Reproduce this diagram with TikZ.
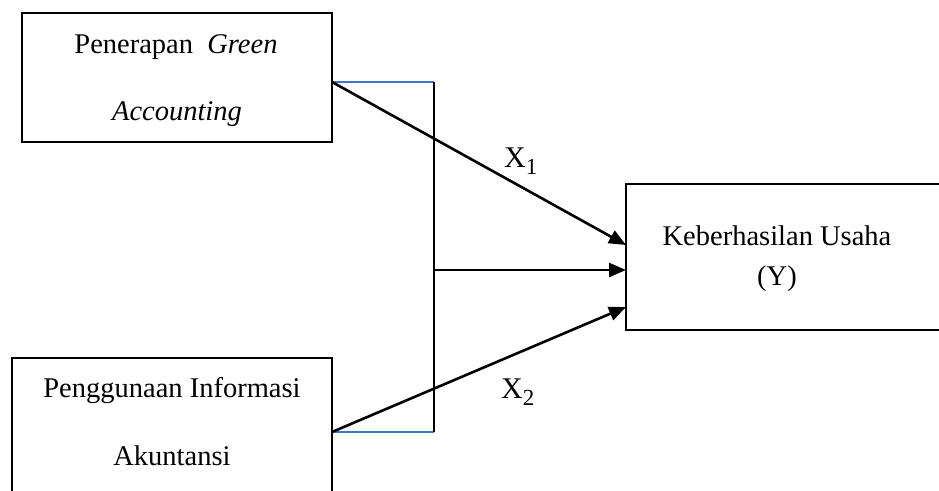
\documentclass[tikz,border=0pt]{standalone}
\usepackage{fontspec}
\setmainfont{Liberation Serif}
\usetikzlibrary{arrows.meta}
\definecolor{linkblue}{RGB}{68,114,196}
\tikzset{
  varbox/.style={draw=black, line width=2pt, inner sep=0pt, fill=white},
  boxtext/.style={font=\fontsize{28.5}{30}\selectfont, anchor=base, inner sep=0pt},
  arrowline/.style={draw=black, line width=2.6pt, -{Triangle[length=17pt,width=14pt]}},
  bracket/.style={draw=black, line width=2.4pt},
  bluelink/.style={draw=linkblue, line width=2pt},
  sublabel/.style={font=\fontsize{30}{30}\selectfont, anchor=base west, inner sep=0pt}
}
\newcommand{\subnum}[1]{\raisebox{-7pt}{\fontsize{23}{23}\selectfont #1}}
\begin{document}
\begin{tikzpicture}[x=1pt, y=-1pt]
  \useasboundingbox (0,0) rectangle (939,490);
  \clip (0,0) rectangle (939,490);

  % variable boxes
  \node[varbox, minimum width=310pt, minimum height=129pt] (green) at (177,77.5) {};
  \node[varbox, minimum width=320pt, minimum height=152pt] (info) at (172,434) {};
  \node[varbox, minimum width=334pt, minimum height=146pt] (usaha) at (793,257) {};

  % box labels
  \node[boxtext] (t1a) at (176,53) {Penerapan\enspace\textit{Green}};
  \node[boxtext] (t1b) at (177,120) {\textit{Accounting}};
  \node[boxtext] (t2a) at (172,397) {Penggunaan Informasi};
  \node[boxtext] (t2b) at (172,465) {Akuntansi};
  \node[boxtext] (t3a) at (777,245) {Keberhasilan Usaha};
  \node[boxtext] (t3b) at (777,285) {(Y)};

  % joints of the bracket
  \coordinate (g1) at (332,82);
  \coordinate (g2) at (332,432);
  \coordinate (j1) at (434,82);
  \coordinate (j2) at (434,432);
  \coordinate (jm) at (434,270);
  \coordinate (y1) at (626,245);
  \coordinate (ym) at (626,270);
  \coordinate (y2) at (626,307);

  % bracket joining both independent variables
  \draw[bluelink] (g1) -- (j1);
  \draw[bluelink] (g2) -- (j2);
  \draw[bracket] (j1) -- (j2);

  % arrows into the dependent variable
  \draw[arrowline] (g1) -- (y1);
  \draw[arrowline] (jm) -- (ym);
  \draw[arrowline] (g2) -- (y2);

  % path labels
  \node[sublabel] (x1) at (504,167) {X\subnum{1}};
  \node[sublabel] (x2) at (501,398) {X\subnum{2}};
\end{tikzpicture}
\end{document}
